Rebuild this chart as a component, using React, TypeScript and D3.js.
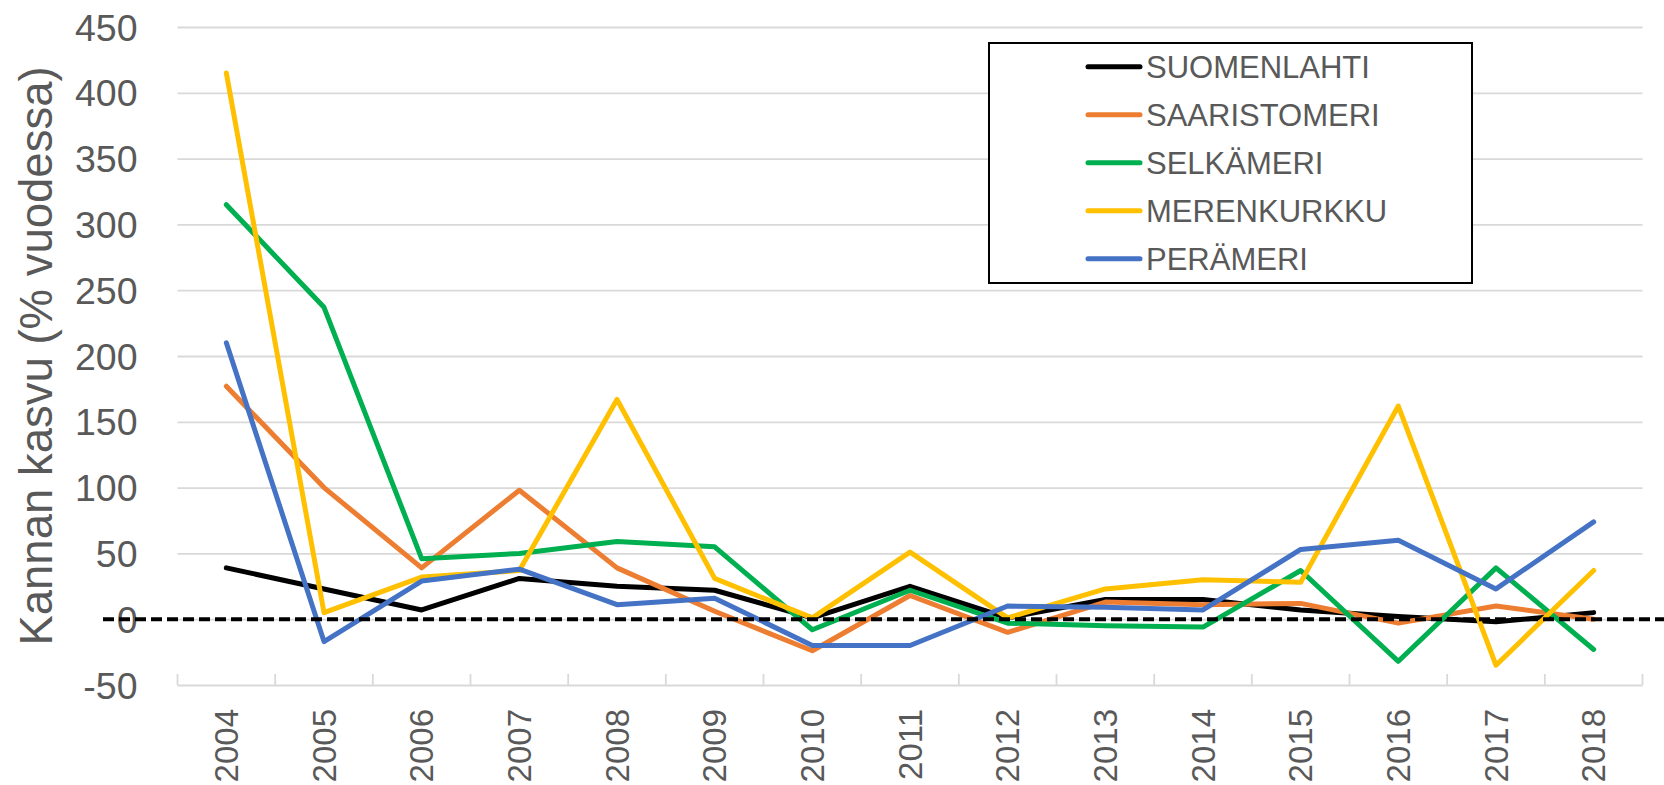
import React, { useRef, useEffect } from 'react';
import * as d3 from 'd3';

const years = ['2004', '2005', '2006', '2007', '2008', '2009', '2010', '2011', '2012', '2013', '2014', '2015', '2016', '2017', '2018'];
const suomenlahti = [39, 23, 7, 31, 25, 22, 1, 25, 1, 15, 15, 7, 2, -2, 5];
const saaristomeri = [177, 100, 39, 98, 39, 6, -24, 18, -10, 13, 11, 12, -3, 10, 0];
const selkameri = [315, 237, 46, 50, 59, 55, -8, 22, -3, -5, -6, 37, -32, 39, -23];
const merenkurkku = [415, 5, 32, 37, 167, 31, 1, 51, 1, 23, 30, 28, 162, -35, 37];
const perameri = [210, -17, 29, 38, 11, 16, -20, -20, 10, 9, 7, 53, 60, 23, 74];
const seriesNames = ['SUOMENLAHTI', 'SAARISTOMERI', 'SELKÄMERI', 'MERENKURKKU', 'PERÄMERI'];
const seriesColors = ['#000000', '#ED7D31', '#00B050', '#FFC000', '#4472C4'];
const yTicks = [-50, 0, 50, 100, 150, 200, 250, 300, 350, 400, 450];
const yTitle = 'Kannan kasvu (% vuodessa)';

const FONT = "'Liberation Sans', Arial, sans-serif";
const TEXT = '#595959';

const App = () => {
  const svgRef = useRef<SVGSVGElement>(null);
  useEffect(() => {
    const W = 1664, H = 785;
    const left = 177.5, right = 1642.5, top = 27, bottom = 685;
    const svg = d3.select(svgRef.current).attr('width', W).attr('height', H);
    svg.selectAll('*').remove();

    const x = d3.scaleBand<string>().domain(years).range([left, right]).padding(0);
    const y = d3.scaleLinear().domain([-50, 450]).range([bottom, top]);
    const cx = (d: string) => (x(d) as number) + x.bandwidth() / 2;

    // gridlines + y labels (plain hyphen for negatives)
    const yAxis = svg.append('g')
      .attr('transform', `translate(${left},0)`)
      .call(d3.axisLeft(y).tickValues(yTicks).tickFormat(d => String(d)).tickSize(-(right - left)).tickPadding(40));
    yAxis.select('.domain').remove();
    yAxis.selectAll('line').attr('stroke', '#d9d9d9').attr('stroke-width', 1.8);
    yAxis.selectAll('text')
      .attr('fill', TEXT)
      .style('font-size', '37.5px')
      .style('font-family', FONT)
      .attr('dy', '0.35em');

    // category boundary ticks on x axis
    const bounds = years.map(d => x(d) as number).concat([right]);
    svg.append('g').selectAll('line')
      .data(bounds)
      .join('line')
      .attr('x1', d => d).attr('x2', d => d)
      .attr('y1', bottom - 11).attr('y2', bottom)
      .attr('stroke', '#d9d9d9').attr('stroke-width', 1.8);

    // x labels
    svg.append('g').selectAll('text')
      .data(years)
      .join('text')
      .attr('transform', d => `translate(${cx(d)},709) rotate(-90)`)
      .attr('text-anchor', 'end')
      .attr('dy', '0.35em')
      .style('font-size', '33px')
      .style('font-family', FONT)
      .attr('fill', TEXT)
      .text(d => d);

    // y title
    svg.append('text')
      .attr('transform', 'translate(52,356) rotate(-90)')
      .attr('text-anchor', 'middle')
      .style('font-size', '45.5px')
      .style('font-family', FONT)
      .attr('fill', TEXT)
      .text(yTitle);

    // series
    const allSeries = [suomenlahti, saaristomeri, selkameri, merenkurkku, perameri];
    const line = d3.line<number>()
      .x((d, i) => cx(years[i]))
      .y(d => y(d));
    allSeries.forEach((vals, k) => {
      svg.append('path')
        .datum(vals)
        .attr('d', line)
        .attr('fill', 'none')
        .attr('stroke', seriesColors[k])
        .attr('stroke-width', 5)
        .attr('stroke-linejoin', 'round')
        .attr('stroke-linecap', 'round');
    });

    // zero reference line
    svg.append('line')
      .attr('x1', 103).attr('x2', W)
      .attr('y1', y(0)).attr('y2', y(0))
      .attr('stroke', '#000').attr('stroke-width', 4)
      .attr('stroke-dasharray', '11,5');

    // legend
    const legend = svg.append('g');
    legend.append('rect')
      .attr('x', 989).attr('y', 43).attr('width', 483).attr('height', 240)
      .attr('fill', '#fff').attr('stroke', '#000').attr('stroke-width', 2);
    const rows = legend.selectAll('g.row')
      .data(seriesNames)
      .join('g')
      .attr('class', 'row')
      .attr('transform', (d, i) => `translate(0,${66.7 + i * 48})`);
    rows.append('line')
      .attr('x1', 1088).attr('x2', 1140)
      .attr('stroke', (d, i) => seriesColors[i])
      .attr('stroke-width', 5)
      .attr('stroke-linecap', 'round');
    rows.append('text')
      .attr('x', 1146)
      .attr('dy', '0.35em')
      .style('font-size', '31px')
      .style('font-family', FONT)
      .attr('fill', TEXT)
      .text(d => d);
  }, []);
  return (
    <svg ref={svgRef} style={{ position: 'absolute', left: 0, top: 0, background: '#fff' }}></svg>
  );
};

export default App;
